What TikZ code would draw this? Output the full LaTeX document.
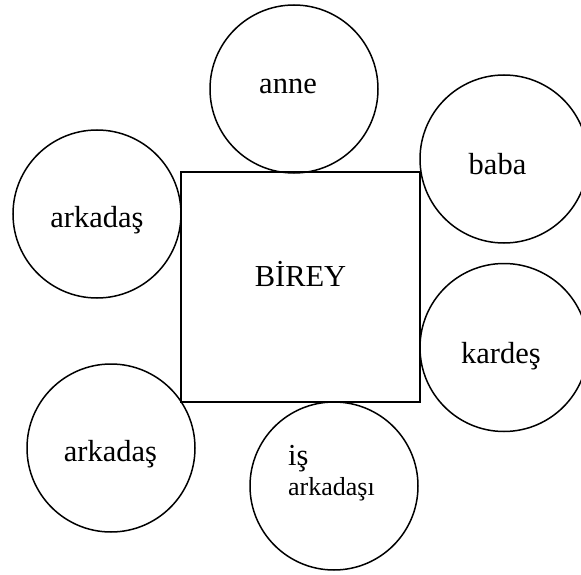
\documentclass[tikz,border=0pt]{standalone}
\usepackage{fontspec}
\setmainfont{Liberation Serif}
\begin{document}
\begin{tikzpicture}[x=1pt,y=-1pt,
  ring/.style={draw,circle,line width=1.5pt,minimum size=168pt,inner sep=0pt},
  box/.style={draw,rectangle,line width=1.5pt,inner sep=0pt},
  lbl/.style={anchor=base,inner sep=0pt,font=\fontsize{30.5}{32}\selectfont},
  lbls/.style={anchor=base west,inner sep=0pt,font=\fontsize{26}{28}\selectfont}]
\useasboundingbox (0,0) rectangle (581,575);
\clip (0,0) rectangle (581,575);
\node[box,minimum width=239pt,minimum height=230pt] (birey) at (300.5,287) {};
\node[ring] (anne) at (294,89) {};
\node[ring] (baba) at (504,159) {};
\node[ring] (ark1) at (97,214) {};
\node[ring] (kardes) at (504,347.5) {};
\node[ring] (ark2) at (111,448) {};
\node[ring] (is) at (334,486) {};
\node[lbl] (tbirey) at (300.5,286) {BİREY};
\node[lbl] (tanne) at (288,94) {anne};
\node[lbl] (tbaba) at (497.5,175) {baba};
\node[lbl] (tkardes) at (501,363) {kardeş};
\node[lbl] (tark1) at (97,227) {arkadaş};
\node[lbl] (tark2) at (110.5,461) {arkadaş};
\node[anchor=base west,inner sep=0pt,font=\fontsize{30.5}{32}\selectfont] (tis) at (288,465) {iş};
\node[lbls] (tisark) at (288,495) {arkadaşı};
\end{tikzpicture}
\end{document}
